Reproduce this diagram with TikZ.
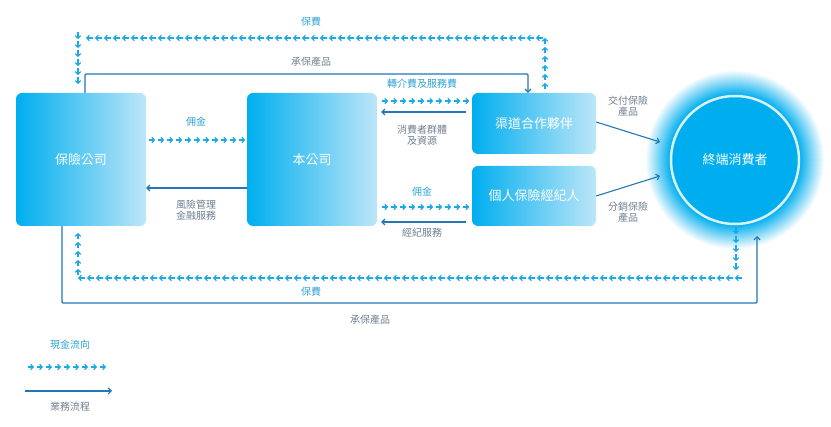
\documentclass[tikz,border=0pt]{standalone}
\usepackage{fontspec}
\setmainfont{Noto Sans CJK TC}
\usetikzlibrary{arrows.meta,decorations.markings}
\definecolor{cash}{HTML}{1BA9E6}
\definecolor{flow}{HTML}{2277B8}
\definecolor{boxa}{HTML}{00AEEF}
\definecolor{boxb}{HTML}{BDE6F8}
\definecolor{lbl}{HTML}{6E7F8E}

\begin{document}
\begin{tikzpicture}[x=1pt,y=-1pt,font=\fontsize{10}{12}\selectfont]
            \tikzstyle{party}=[rounded corners=6pt,left color=boxa,right color=boxb,text=white,font=\fontsize{13}{15}\selectfont,inner sep=0pt]
            \tikzstyle{cashflow}=[postaction={decorate},decoration={markings,mark=between positions 9pt and 1 step 9pt with {\draw[cash,line width=1.2pt,-{Straight Barb[length=2.5pt,width=5.5pt]}] (-6.5pt,0) -- (0,0);}}]
            \tikzstyle{bizflow}=[flow,line width=1.1pt,-{Straight Barb[length=3pt,width=6pt]}]
            \tikzstyle{cashlbl}=[text=cash!80!lbl]
            \tikzstyle{bizlbl}=[text=lbl,align=center,font=\fontsize{10}{11}\selectfont]
            \useasboundingbox (0,0) rectangle (831,427);

            \node[party,minimum width=130pt,minimum height=133pt] (insurer) at (81,159.5) {保險公司};
            \node[party,minimum width=130pt,minimum height=133pt] (us) at (312,159.5) {本公司};
            \node[party,minimum width=124pt,minimum height=61pt] (channel) at (534,123.5) {渠道合作夥伴};
            \node[party,minimum width=124pt,minimum height=60pt] (broker) at (534,196) {個人保險經紀人};
            \foreach \i in {0,...,26}{
              \pgfmathsetmacro{\p}{min(100,4*\i)}
              \fill[boxa!\p!white] (735,160) circle ({90-\i});
            }
            \draw[white!85!boxa,line width=2.5pt,fill=boxa] (735,160) circle (64pt);
            \node[text=white,font=\fontsize{13}{15}\selectfont] (client) at (735,160) {終端消費者};

            % premium loops
            \coordinate (t1) at (545,38); \coordinate (t2) at (78,38);
            \draw[draw=none,cashflow] (545,92) -- (t1) -- (t2) -- (78,89);
            \node[cashlbl] (premtop) at (311,22) {保費};
            \coordinate (b1) at (736,278); \coordinate (b2) at (78,278);
            \draw[draw=none,cashflow] (736,225) -- (b1) -- (b2) -- (78,226);
            \node[cashlbl] (prembot) at (311,292) {保費};

            % underwriting lines
            \draw[bizflow,rounded corners=1pt] (insurer.north -| 85,0) -- (85,74) -- (528,74) -- (channel.north -| 528,0);
            \node[bizlbl] (uwtop) at (311,62) {承保產品};
            \draw[bizflow,rounded corners=1pt] (insurer.south -| 62,0) -- (62,303) -- (757,303) -- (757,236);
            \node[bizlbl] (uwbot) at (370,320) {承保產品};

            % insurer and us
            \draw[draw=none,cashflow] (insurer.east |- 0,140) -- (us.west |- 0,140);
            \node[cashlbl] (comm1) at (196,122) {佣金};
            \draw[bizflow] (us.west |- 0,188) -- (insurer.east |- 0,188);
            \node[bizlbl] (risk) at (196,210) {風險管理\\金融服務};

            % us and partners
            \draw[draw=none,cashflow] ([xshift=2pt]us.east |- 0,101) -- (channel.west |- 0,101);
            \node[cashlbl] (fee) at (422,84) {轉介費及服務費};
            \draw[bizflow] ([xshift=-6pt]channel.west |- 0,112) -- ([xshift=4pt]us.east |- 0,112);
            \node[bizlbl] (group) at (422,135) {消費者群體\\及資源};
            \draw[draw=none,cashflow] ([xshift=2pt]us.east |- 0,207) -- (broker.west |- 0,207);
            \node[cashlbl] (comm2) at (422,192) {佣金};
            \draw[bizflow] ([xshift=-6pt]broker.west |- 0,222) -- ([xshift=4pt]us.east |- 0,222);
            \node[bizlbl] (brokserv) at (422,233) {經紀服務};

            % partners to client
            \draw[bizflow] (channel.east |- 0,122) -- (660,142);
            \node[bizlbl] (deliver) at (628,106) {交付保險\\產品};
            \draw[bizflow] (broker.east |- 0,196) -- (660,176);
            \node[bizlbl] (distrib) at (628,212) {分銷保險\\產品};

            % legend
            \node[cashlbl] (legcash) at (70,345) {現金流向};
            \coordinate (lc1) at (25,367); \coordinate (lc2) at (112,367);
            \draw[draw=none,cashflow] (lc1) -- (lc2);
            \coordinate (lb1) at (25,391); \coordinate (lb2) at (112,391);
            \draw[bizflow] (lb1) -- (lb2);
            \node[bizlbl] (legbiz) at (70,407) {業務流程};
        \end{tikzpicture}
\end{document}
